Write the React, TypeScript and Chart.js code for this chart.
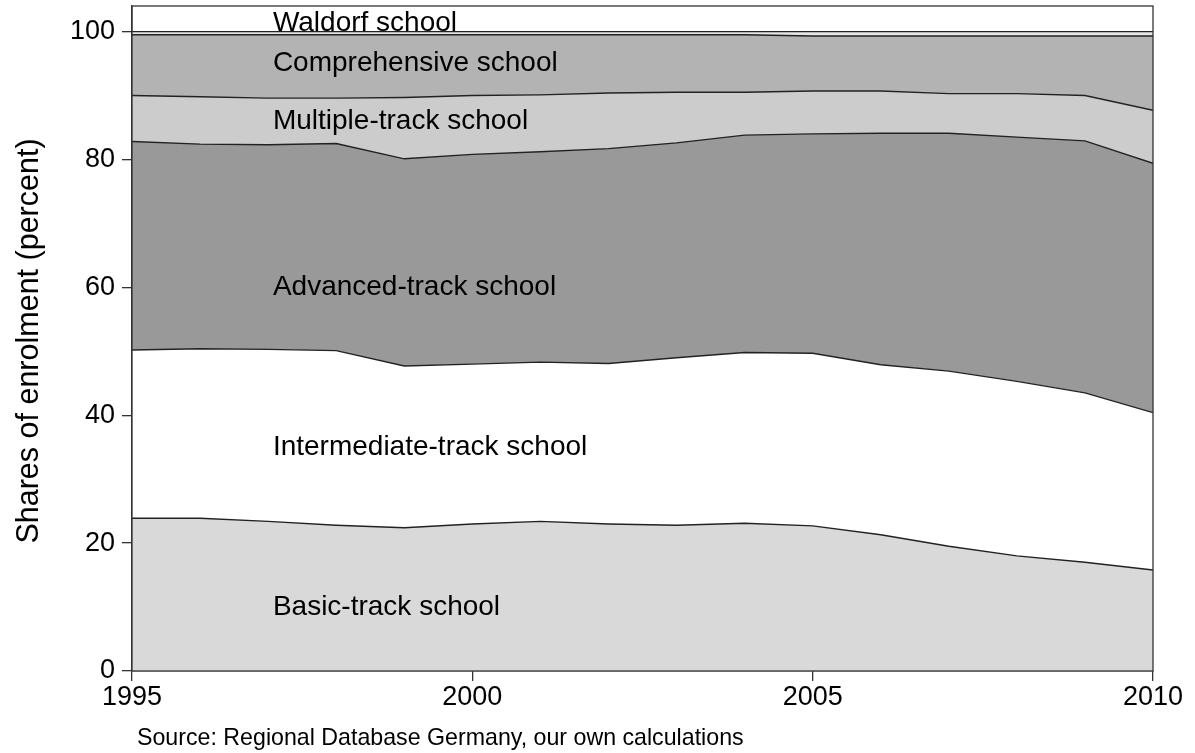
import React, { useEffect, useRef } from "react";
import { Chart, registerables } from "chart.js";

Chart.register(...registerables);

const years = [1995, 1996, 1997, 1998, 1999, 2000, 2001, 2002, 2003, 2004, 2005, 2006, 2007, 2008, 2009, 2010];
const basic = [23.9, 23.9, 23.4, 22.8, 22.4, 23.0, 23.4, 23.0, 22.8, 23.1, 22.7, 21.3, 19.5, 18.0, 17.0, 15.8];
const intermediate = [26.3, 26.5, 26.9, 27.3, 25.3, 25.0, 24.9, 25.1, 26.2, 26.7, 27.0, 26.6, 27.4, 27.3, 26.5, 24.6];
const advanced = [32.6, 32.0, 32.0, 32.4, 32.4, 32.8, 32.9, 33.6, 33.6, 34.0, 34.3, 36.2, 37.2, 38.2, 39.4, 39.0];
const multiple = [7.2, 7.4, 7.3, 7.1, 9.6, 9.2, 8.9, 8.7, 7.9, 6.7, 6.7, 6.6, 6.2, 6.8, 7.1, 8.3];
const comprehensive = [9.5, 9.7, 9.9, 9.9, 9.8, 9.5, 9.4, 9.1, 9.0, 9.0, 8.6, 8.6, 9.0, 9.0, 9.3, 11.6];
const waldorf = [0.5, 0.5, 0.5, 0.5, 0.5, 0.5, 0.5, 0.5, 0.5, 0.5, 0.7, 0.7, 0.7, 0.7, 0.7, 0.7];

const seriesNames = [
  "Basic-track school",
  "Intermediate-track school",
  "Advanced-track school",
  "Multiple-track school",
  "Comprehensive school",
  "Waldorf school",
];
const seriesColors = ["#d9d9d9", "#ffffff", "#999999", "#cccccc", "#b3b3b3", "#e6e6e6"];
// in-plot label anchors (data units)
const labelX = 1997.07;
const labelY = [10, 35, 60, 86, 95, 101.3];

const yTicks = [0, 20, 40, 60, 80, 100];
const xTicks = [1995, 2000, 2005, 2010];
const yTitle = "Shares of enrolment (percent)";
const sourceNote = "Source: Regional Database Germany, our own calculations";

const FONT = "'Liberation Sans', Arial, sans-serif";

export default function App() {
  const ref = useRef<HTMLCanvasElement | null>(null);

  useEffect(() => {
    document.body.style.margin = "0";
    const canvas = ref.current;
    if (!canvas) return;
    const all = [basic, intermediate, advanced, multiple, comprehensive, waldorf];

    const decor = {
      id: "decor",
      afterDatasetsDraw(chart: any) {
        const { ctx, chartArea, scales } = chart;
        ctx.save();
        ctx.strokeStyle = "#333333";
        ctx.lineWidth = 1.3;
        ctx.strokeRect(chartArea.left, chartArea.top, chartArea.right - chartArea.left, chartArea.bottom - chartArea.top);
        ctx.fillStyle = "#000000";
        ctx.font = `28px ${FONT}`;
        ctx.textAlign = "left";
        ctx.textBaseline = "middle";
        seriesNames.forEach((name, i) => {
          ctx.fillText(name, scales.x.getPixelForValue(labelX), scales.y.getPixelForValue(labelY[i]));
        });
        ctx.restore();
      },
      afterDraw(chart: any) {
        const { ctx } = chart;
        ctx.save();
        ctx.fillStyle = "#000000";
        ctx.font = `30.5px ${FONT}`;
        ctx.textAlign = "center";
        ctx.textBaseline = "middle";
        ctx.translate(30, 341);
        ctx.rotate(-Math.PI / 2);
        ctx.fillText(yTitle, 0, 0);
        ctx.restore();
        ctx.save();
        ctx.fillStyle = "#000000";
        ctx.font = `23.2px ${FONT}`;
        ctx.textAlign = "left";
        ctx.textBaseline = "middle";
        ctx.fillText(sourceNote, 137, 739);
        ctx.restore();
      },
    };

    const chart = new Chart(canvas, {
      type: "line",
      data: {
        datasets: all.map((vals, i) => ({
          label: seriesNames[i],
          data: vals.map((v, j) => ({ x: years[j], y: v })),
          backgroundColor: seriesColors[i],
          borderColor: "#222222",
          borderWidth: 1.4,
          pointRadius: 0,
          tension: 0,
          fill: i === 0 ? "origin" : "-1",
        })),
      },
      options: {
        animation: false,
        responsive: false,
        maintainAspectRatio: false,
        layout: { padding: { top: 6, right: 42, left: 0, bottom: 0 } },
        plugins: { legend: { display: false }, tooltip: { enabled: false } },
        scales: {
          x: {
            type: "linear",
            min: 1995,
            max: 2010,
            afterBuildTicks: (s: any) => {
              s.ticks = xTicks.map((v) => ({ value: v }));
            },
            afterFit: (s: any) => {
              s.height = 82;
              s.paddingLeft = 0;
              s.paddingRight = 0;
            },
            grid: { drawOnChartArea: false, drawTicks: true, tickLength: 10, color: "#333333", lineWidth: 1.3 },
            border: { display: true, color: "#333333", width: 1.3 },
            ticks: {
              color: "#000000",
              font: { family: FONT, size: 27 },
              padding: 0,
              maxRotation: 0,
              autoSkip: false,
              callback: (v: any) => String(v),
            },
          },
          y: {
            type: "linear",
            stacked: true,
            min: 0,
            max: 104,
            afterBuildTicks: (s: any) => {
              s.ticks = yTicks.map((v) => ({ value: v }));
            },
            afterFit: (s: any) => {
              s.width = 132;
              s.paddingTop = 0;
              s.paddingBottom = 0;
            },
            grid: { drawOnChartArea: false, drawTicks: true, tickLength: 10, color: "#333333", lineWidth: 1.3 },
            border: { display: true, color: "#333333", width: 1.3 },
            ticks: {
              color: "#000000",
              font: { family: FONT, size: 27 },
              padding: 7,
              callback: (v: any) => String(v),
            },
          },
        },
      },
      plugins: [decor],
    });
    return () => chart.destroy();
  }, []);

  return (
    <div style={{ width: 1195, height: 753 }}>
      <canvas ref={ref} width={1195} height={753} style={{ display: "block", width: 1195, height: 753 }} />
    </div>
  );
}
